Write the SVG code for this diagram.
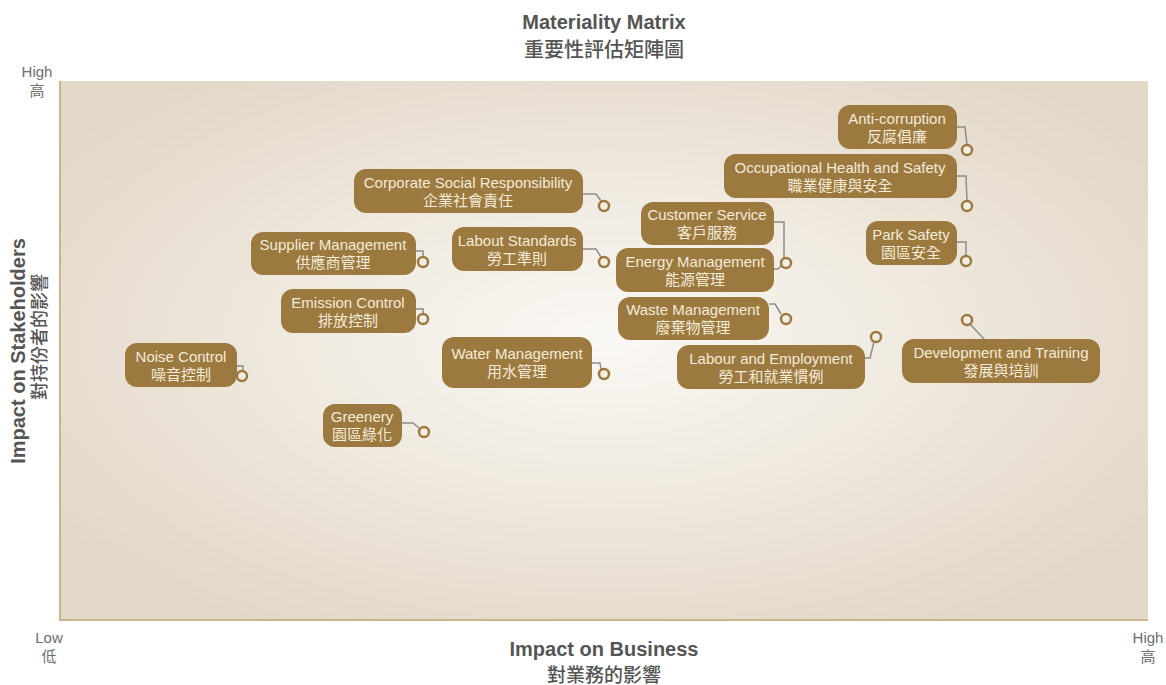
<svg xmlns="http://www.w3.org/2000/svg" width="1166" height="685" viewBox="0 0 1166 685">
<defs>
<radialGradient id="bg" cx="0.5" cy="0.48" r="0.62">
<stop offset="0" stop-color="#faf8f5"/>
<stop offset="0.3" stop-color="#f3efe7"/>
<stop offset="0.72" stop-color="#e9e0d3"/>
<stop offset="1" stop-color="#e2d8c7"/>
</radialGradient>
<style>
.t{font-family:"Liberation Sans",Arial,sans-serif;fill:#555;}
.tc{font-family:"Liberation Sans","Noto Sans CJK TC",sans-serif;fill:#555;}
.b{font-weight:bold;font-size:20px;}
.m{font-weight:500;}
.ax{font-size:15px;fill:#6e6e6e;font-weight:normal;}
.n rect{fill:#9c7a3f;}
.n text{font-family:"Liberation Sans","Noto Sans CJK TC",sans-serif;font-size:15px;fill:#f3ebd9;text-anchor:middle;}
.c path{fill:none;stroke:#8c8c8c;stroke-width:1.5;}
.c circle{fill:#f2ede4;stroke:#9c7a3f;stroke-width:2.5;}
</style>
</defs>
<rect x="0" y="0" width="1166" height="685" fill="#ffffff"/>
<g id="plot">
<rect x="60" y="81" width="1088" height="539" fill="url(#bg)"/>
<path d="M60,81 V620 H1148" fill="none" stroke="#cbb48e" stroke-width="2"/>
</g>
<g id="titles">
<text class="t b" x="604" y="29" text-anchor="middle">Materiality Matrix</text>
<text class="tc m" x="604" y="57" text-anchor="middle" font-size="20">重要性評估矩陣圖</text>
<text class="t b" x="604" y="656" text-anchor="middle">Impact on Business</text>
<text class="tc m" x="604" y="682" text-anchor="middle" font-size="19">對業務的影響</text>
<text class="t b" transform="translate(25,351) rotate(-90)" text-anchor="middle">Impact on Stakeholders</text>
<text class="tc m" transform="translate(46,337) rotate(-90)" text-anchor="middle" font-size="18">對持份者的影響</text>
<text class="t ax" x="37" y="77" text-anchor="middle">High</text>
<text class="tc ax" x="37" y="96" text-anchor="middle">高</text>
<text class="t ax" x="49" y="643" text-anchor="middle">Low</text>
<text class="tc ax" x="49" y="662" text-anchor="middle">低</text>
<text class="t ax" x="1148" y="643" text-anchor="middle">High</text>
<text class="tc ax" x="1148" y="662" text-anchor="middle">高</text>
</g>
<g id="connectors" class="c">
<path d="M957,127 H965 L967,145"/><circle cx="967" cy="150" r="5"/>
<path d="M957,176 H966 L967,201"/><circle cx="967" cy="206" r="5"/>
<path d="M583,194 H596 L601,201"/><circle cx="604" cy="206" r="5"/>
<path d="M774,222 H784 V258"/>
<path d="M774,269 H778 L782,265"/><circle cx="786" cy="263" r="5"/>
<path d="M769,304 H775 L781,314"/><circle cx="786" cy="319" r="5"/>
<path d="M864,358 H870 L874,342"/><circle cx="876" cy="337" r="5"/>
<path d="M957,242 H966 V256"/><circle cx="966" cy="261" r="5"/>
<path d="M970,324 L985,340"/><circle cx="967" cy="320" r="5"/>
<path d="M416,251 H423 V257"/><circle cx="423" cy="262" r="5"/>
<path d="M583,249 H596 L601,257"/><circle cx="604" cy="262" r="5"/>
<path d="M416,309 H423 V314"/><circle cx="423" cy="319" r="5"/>
<path d="M592,363 H600 L601,369"/><circle cx="604" cy="374" r="5"/>
<path d="M237,366 H243 V371"/><circle cx="242" cy="376" r="5"/>
<path d="M402,423 H413 L419,428"/><circle cx="424" cy="432" r="5"/>
</g>
<g id="anti-corruption" class="n"><rect x="838" y="105" width="119" height="44" rx="12"/><text x="897" y="124">Anti-corruption</text><text x="897" y="142">反腐倡廉</text></g>
<g id="ohs" class="n"><rect x="724" y="154" width="233" height="44" rx="12"/><text x="840" y="173">Occupational Health and Safety</text><text x="840" y="191">職業健康與安全</text></g>
<g id="csr" class="n"><rect x="354" y="169" width="229" height="44" rx="12"/><text x="468" y="188">Corporate Social Responsibility</text><text x="468" y="206">企業社會責任</text></g>
<g id="customer-service" class="n"><rect x="641" y="202" width="133" height="43" rx="12"/><text x="707" y="220">Customer Service</text><text x="707" y="238">客戶服務</text></g>
<g id="energy" class="n"><rect x="616" y="248" width="158" height="44" rx="12"/><text x="695" y="267">Energy Management</text><text x="695" y="285">能源管理</text></g>
<g id="waste" class="n"><rect x="618" y="297" width="151" height="43" rx="12"/><text x="693" y="315">Waste Management</text><text x="693" y="333">廢棄物管理</text></g>
<g id="labour-employment" class="n"><rect x="677" y="345" width="188" height="44" rx="12"/><text x="771" y="364">Labour and Employment</text><text x="771" y="382">勞工和就業慣例</text></g>
<g id="park-safety" class="n"><rect x="866" y="221" width="91" height="44" rx="12"/><text x="911" y="240">Park Safety</text><text x="911" y="258">園區安全</text></g>
<g id="development-training" class="n"><rect x="902" y="339" width="198" height="44" rx="12"/><text x="1001" y="358">Development and Training</text><text x="1001" y="376">發展與培訓</text></g>
<g id="supplier" class="n"><rect x="251" y="232" width="165" height="43" rx="12"/><text x="333" y="250">Supplier Management</text><text x="333" y="268">供應商管理</text></g>
<g id="labout-standards" class="n"><rect x="452" y="227" width="131" height="44" rx="12"/><text x="517" y="246">Labout Standards</text><text x="517" y="264">勞工準則</text></g>
<g id="emission" class="n"><rect x="281" y="289" width="135" height="44" rx="12"/><text x="348" y="308">Emission Control</text><text x="348" y="326">排放控制</text></g>
<g id="water" class="n"><rect x="442" y="337" width="150" height="51" rx="12"/><text x="517" y="359">Water Management</text><text x="517" y="377">用水管理</text></g>
<g id="noise" class="n"><rect x="125" y="343" width="112" height="44" rx="12"/><text x="181" y="362">Noise Control</text><text x="181" y="380">噪音控制</text></g>
<g id="greenery" class="n"><rect x="323" y="404" width="79" height="43" rx="12"/><text x="362" y="422">Greenery</text><text x="362" y="440">園區綠化</text></g>
</svg>
